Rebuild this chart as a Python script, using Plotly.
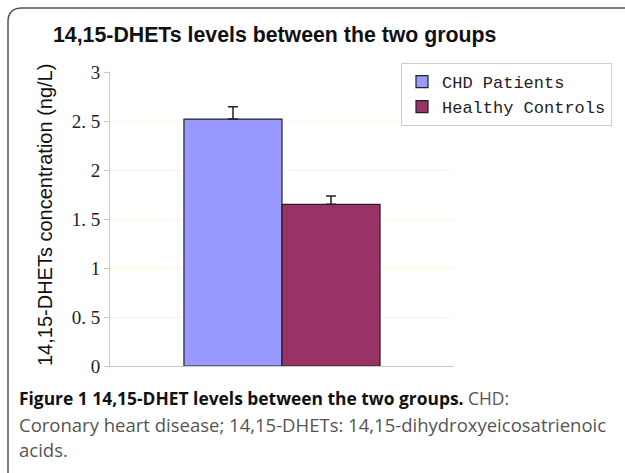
import plotly.graph_objects as go

groups = ["CHD Patients", "Healthy Controls"]
means = [2.52, 1.65]
errors = [0.125, 0.085]
colors = ["#9999FF", "#993366"]
tick_vals = [0, 0.5, 1, 1.5, 2, 2.5, 3]
tick_text = ["0", "0. 5", "1", "1. 5", "2", "2. 5", "3"]

W, H = 625, 473
L, R, T, B = 110, 454, 72, 366  # plot area in px


def px_x(x):
    return (x - L) / (R - L)


def px_y(y):
    return (B - y) / (B - T)


fig = go.Figure()
for name, m, e, c in zip(groups, means, errors, colors):
    fig.add_trace(go.Bar(
        x=["g"], y=[m], name=name,
        marker=dict(color=c, line=dict(color="#222222", width=1.2)),
        error_y=dict(type="data", array=[e], symmetric=False, arrayminus=[0],
                     color="#222222", thickness=1.5, width=5),
    ))

fig.update_layout(
    width=W, height=H,
    margin=dict(l=L, r=W - R, t=T, b=H - B),
    paper_bgcolor="white", plot_bgcolor="white",
    barmode="group", bargap=0.43, bargroupgap=0,
    showlegend=True,
    title=dict(text="<b>14,15-DHETs levels between the two groups</b>",
               x=53 / W, xanchor="left", xref="container",
               y=1 - 35 / H, yanchor="middle", yref="container",
               font=dict(family="Liberation Sans, Arial", size=21.3, color="#111111")),
    legend=dict(x=px_x(401), y=px_y(63), xanchor="left", yanchor="top",
                bordercolor="#cccccc", borderwidth=1, bgcolor="white",
                font=dict(family="Liberation Mono, Courier New", size=17, color="#222222"),
                itemwidth=30),
    xaxis=dict(showticklabels=False, ticks="", showgrid=False, showline=True,
               linecolor="#c8c8c8", linewidth=1, range=[-0.5, 0.5]),
    yaxis=dict(range=[0, 3], tickvals=tick_vals, ticktext=tick_text,
               showgrid=True, gridcolor="#f8f8e4", gridwidth=1,
               showline=True, linecolor="#c8c8c8", linewidth=1,
               ticks="outside", ticklen=5, tickcolor="#c8c8c8",
               zeroline=False,
               tickfont=dict(family="Liberation Serif, DejaVu Serif", size=19, color="#222222")),
)

fig.add_annotation(
    text="14,15-DHETs concentration (ng/L)", textangle=-90,
    xref="paper", yref="paper", x=px_x(45), y=px_y(215),
    xanchor="center", yanchor="middle", showarrow=False,
    font=dict(family="Liberation Sans, Arial", size=20, color="#111111"),
)

# caption, one annotation per line
caption_lines = [
    "<b>Figure 1 14,15-DHET levels between the two groups.</b> "
    "<span style='color:#555555'>CHD:</span>",
    "<span style='color:#555555'>Coronary heart disease; 14,15-DHETs: "
    "14,15-dihydroxyeicosatrienoic</span>",
    "<span style='color:#555555'>acids.</span>",
]
for line, yc, fs in zip(caption_lines, [398, 424, 450], [17.4, 18.5, 18.5]):
    fig.add_annotation(
        text=line, xref="paper", yref="paper", x=px_x(17), y=px_y(yc),
        xanchor="left", yanchor="middle", align="left", showarrow=False,
        font=dict(family="Open Sans, Noto Sans", size=fs, color="#111111"),
    )

# rounded frame around the figure
x0, y0, x1, y1, r = 8, 8, 640, 490, 14
fig.add_shape(
    type="path", xref="paper", yref="paper",
    path=(f"M {px_x(x1)},{px_y(y0)} L {px_x(x0 + r)},{px_y(y0)} "
          f"Q {px_x(x0)},{px_y(y0)} {px_x(x0)},{px_y(y0 + r)} "
          f"L {px_x(x0)},{px_y(y1)}"),
    line=dict(color="#555555", width=1.5),
)

fig.write_html("out.html", config={"displayModeBar": False},
               post_script="document.body.style.margin='0px';")
